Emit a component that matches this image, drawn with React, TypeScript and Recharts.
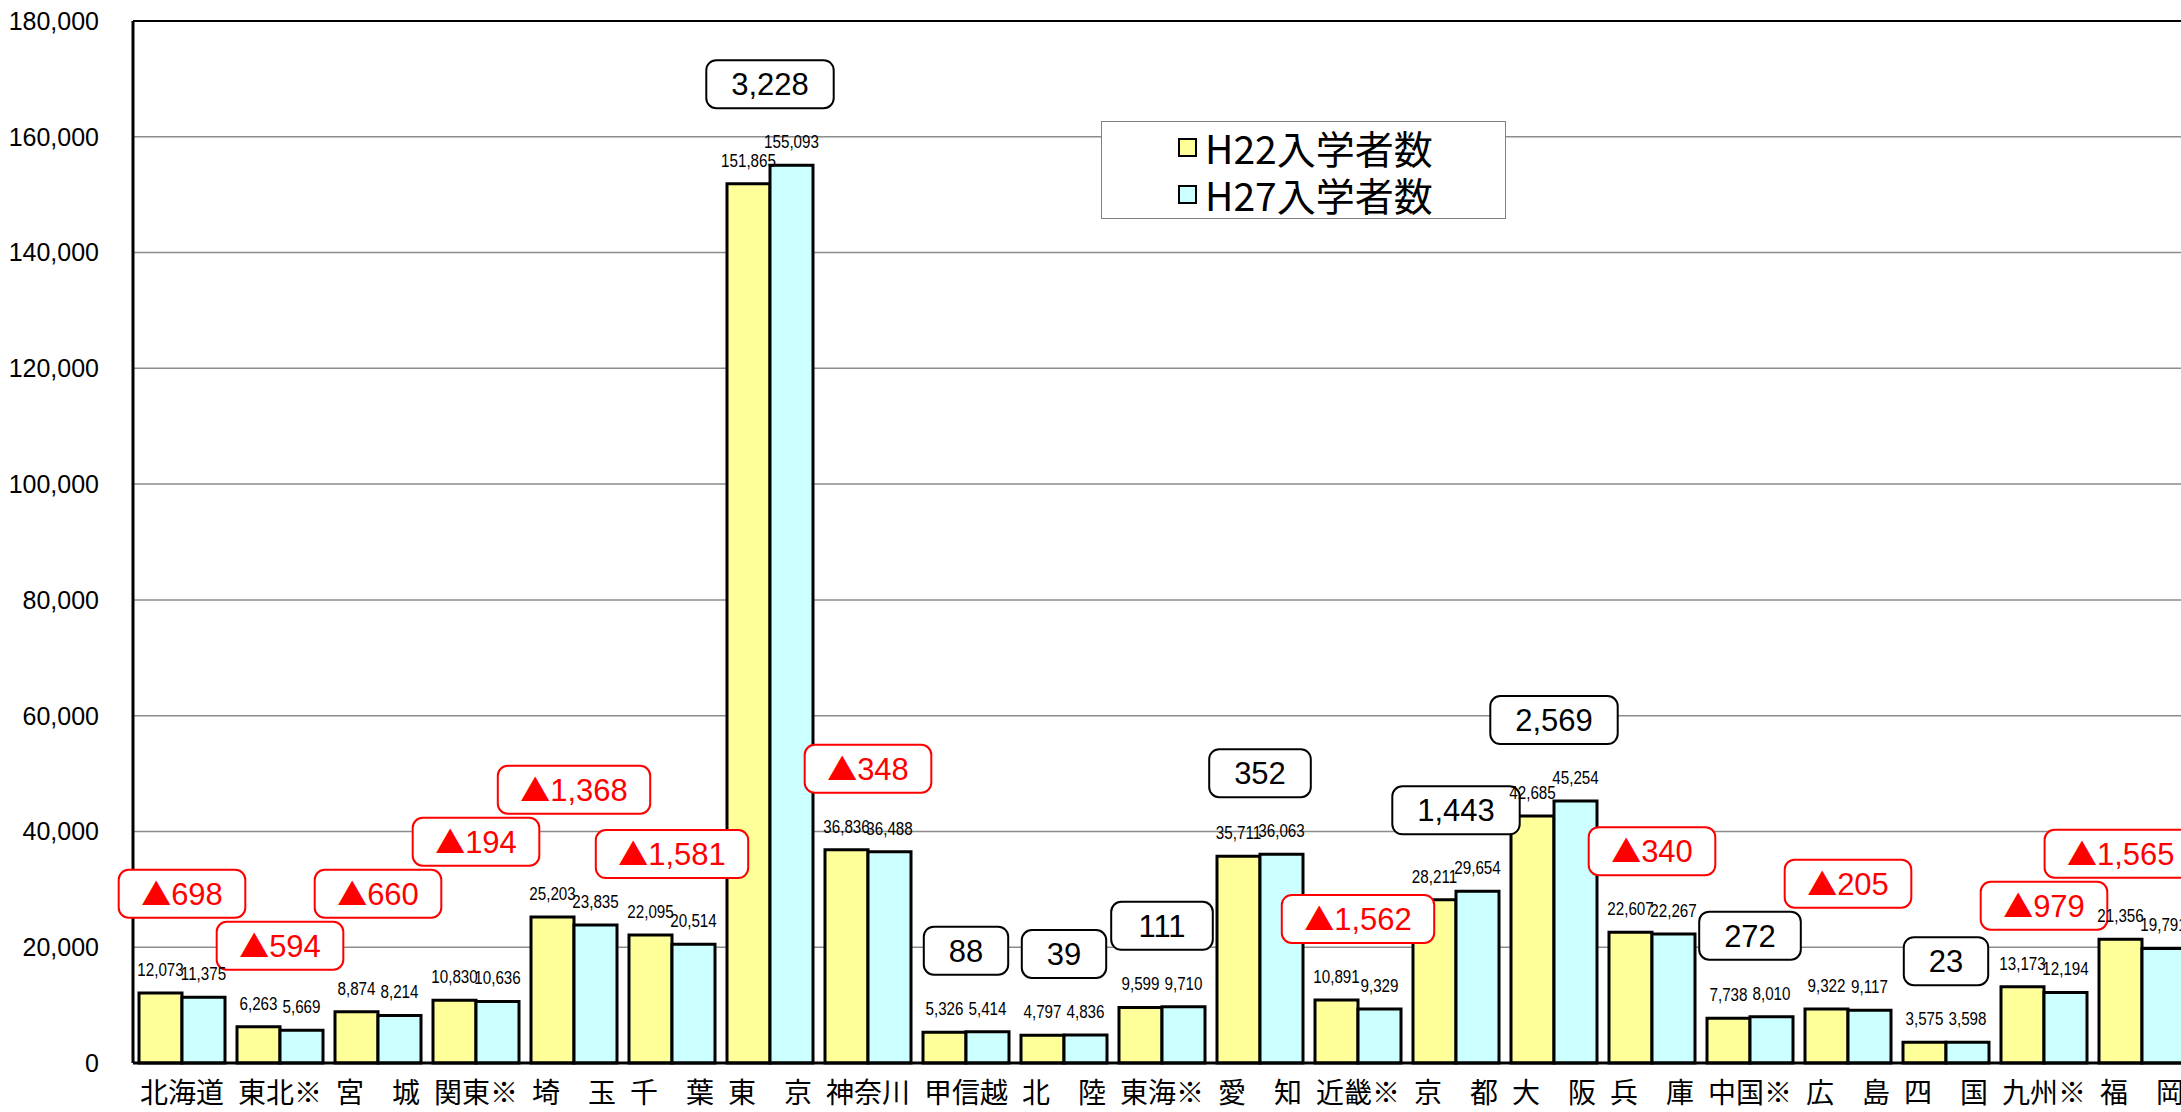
import React from "react";
import {
  ComposedChart,
  Bar,
  Line,
  XAxis,
  YAxis,
  CartesianGrid,
  Legend,
  LabelList,
  ReferenceLine,
} from "recharts";

const regions = [
  "北海道", "東北※", "宮　城", "関東※", "埼　玉", "千　葉", "東　京",
  "神奈川", "甲信越", "北　陸", "東海※", "愛　知", "近畿※", "京　都",
  "大　阪", "兵　庫", "中国※", "広　島", "四　国", "九州※", "福　岡",
];
const h22 = [
  12073, 6263, 8874, 10830, 25203, 22095, 151865, 36836, 5326, 4797, 9599,
  35711, 10891, 28211, 42685, 22607, 7738, 9322, 3575, 13173, 21356,
];
const h27 = [
  11375, 5669, 8214, 10636, 23835, 20514, 155093, 36488, 5414, 4836, 9710,
  36063, 9329, 29654, 45254, 22267, 8010, 9117, 3598, 12194, 19791,
];
const yTicks = [0, 20000, 40000, 60000, 80000, 100000, 120000, 140000, 160000, 180000];
const seriesNames = ["H22入学者数", "H27入学者数"];

const data = regions.map((name, i) => ({
  name,
  h22: h22[i],
  h27: h27[i],
  peak: Math.max(h22[i], h27[i]),
}));

const VIEW_W = 2181;
const fmt = (v: number) => Number(v).toLocaleString("en-US");
const LATIN = "'Liberation Sans', Arial, sans-serif";
const CJK = "'Noto Sans CJK JP', 'Noto Sans', sans-serif";

// value above a bar, squeezed like a narrow font
const BarValue = (p: any) => {
  const vb = p.viewBox || p;
  if (vb.x == null) return null;
  const cx = vb.x + vb.width / 2;
  const ty = vb.y - 17;
  return (
    <text
      transform={`translate(${cx},${ty}) scale(0.8,1)`}
      textAnchor="middle"
      fontSize={19}
      fontFamily={LATIN}
      fill="#000"
    >
      {fmt(p.value)}
    </text>
  );
};

// difference boxes: positions come from the Line points, then get nudged so they don't collide
const BOX_H = 48;
const BOX_RISE = 81;
const boxPts: { cx: number; cy: number }[] = [];

const boxInfo = (i: number) => {
  const d = h27[i] - h22[i];
  const neg = d < 0;
  const num = fmt(Math.abs(d));
  let tw = neg ? 31 : 0;
  for (const ch of num) tw += ch === "," ? 8.6 : 17.2;
  return { neg, num, tw, w: tw + (neg ? 44 : 50) };
};

const layoutBoxes = () => {
  const ys = boxPts.map((p) => (p ? p.cy - BOX_RISE : 0));
  for (let i = 1; i < boxPts.length; i++) {
    const a = boxPts[i - 1];
    const b = boxPts[i];
    if (!a || !b) continue;
    const half = (boxInfo(i - 1).w + boxInfo(i).w) / 2;
    if (Math.abs(b.cx - a.cx) >= half) continue;
    if (Math.abs(ys[i] - ys[i - 1]) >= BOX_H + 4) continue;
    const pi = Math.max(h22[i], h27[i]);
    const pp = Math.max(h22[i - 1], h27[i - 1]);
    if (pi > pp) ys[i] = ys[i - 1] - BOX_H - 4;
    else ys[i - 1] = ys[i] - BOX_H - 4;
  }
  return ys;
};

const DiffBox = ({ index }: { index: number }) => {
  const pt = boxPts[index];
  if (!pt) return null;
  const y = layoutBoxes()[index];
  const { neg, num, tw, w } = boxInfo(index);
  const cx = Math.min(pt.cx, VIEW_W - tw / 2 - 6);
  const color = neg ? "#FF0000" : "#000000";
  return (
    <g>
      <rect x={cx - w / 2} y={y - BOX_H / 2} width={w} height={BOX_H} rx={10} ry={10}
        fill="#fff" stroke={color} strokeWidth={2} />
      <text x={cx} y={y + 11} textAnchor="middle" fontSize={31}
        fontFamily={LATIN} fill={color}>
        {neg && <tspan fontFamily={CJK} fontSize={30}>▲</tspan>}
        <tspan>{num}</tspan>
      </text>
    </g>
  );
};

const renderLegend = (props: any) => (
  <div
    style={{
      width: 405,
      height: 98,
      boxSizing: "border-box",
      border: "1px solid #808080",
      background: "#fff",
      paddingLeft: 76,
      paddingTop: 2,
    }}
  >
    {(props.payload || [])
      .filter((e: any) => e.dataKey !== "peak" && e.type !== "none")
      .map((e: any) => (
        <div key={e.value} style={{ display: "flex", alignItems: "center", height: 47 }}>
          <span
            style={{
              display: "inline-block",
              width: 15,
              height: 15,
              border: "2px solid #000",
              background: e.color,
              marginRight: 8,
            }}
          />
          <span style={{ fontSize: 39, fontFamily: CJK, color: "#000", lineHeight: 1 }}>
            {e.value}
          </span>
        </div>
      ))}
  </div>
);

export default function App() {
  return (
    <div
      style={{
        position: "fixed",
        left: 0,
        top: 0,
        width: VIEW_W,
        height: 1112,
        overflow: "hidden",
        background: "#fff",
      }}
    >
      <ComposedChart
        width={2191}
        height={1112}
        data={data}
        margin={{ top: 21, right: 0, left: 0, bottom: 0 }}
        barCategoryGap={6}
        barGap={0}
      >
        <CartesianGrid vertical={false} stroke="#8c8c8c" strokeWidth={1.5} />
        <XAxis
          dataKey="name"
          height={49}
          interval={0}
          tickLine={false}
          tickSize={0}
          tickMargin={20}
          axisLine={{ stroke: "#000", strokeWidth: 3 }}
          tick={{ fontSize: 28, fontFamily: CJK, fill: "#000" }}
        />
        <YAxis
          width={133}
          domain={[0, 180000]}
          ticks={yTicks}
          interval={0}
          tickLine={false}
          tickSize={0}
          tickMargin={34}
          tickFormatter={fmt}
          axisLine={{ stroke: "#000", strokeWidth: 3 }}
          tick={{ fontSize: 25, fontFamily: LATIN, fill: "#000" }}
        />
        <ReferenceLine y={180000} stroke="#000" strokeWidth={2} />
        <Legend
          verticalAlign="middle"
          align="center"
          content={renderLegend}
          wrapperStyle={{ left: 1101, top: 121, width: 405, height: 98 }}
        />
        <Bar dataKey="h22" name={seriesNames[0]} fill="#FFFF99" stroke="#000"
          strokeWidth={3} isAnimationActive={false}>
          <LabelList dataKey="h22" position="top" content={BarValue} />
        </Bar>
        <Bar dataKey="h27" name={seriesNames[1]} fill="#CCFFFF" stroke="#000"
          strokeWidth={3} isAnimationActive={false}>
          <LabelList dataKey="h27" position="top" content={BarValue} />
        </Bar>
        <Line
          dataKey="peak"
          stroke="none"
          legendType="none"
          isAnimationActive={false}
          activeDot={false}
          dot={(p: any) => {
            boxPts[p.index] = { cx: p.cx, cy: p.cy };
            return <DiffBox key={p.index} index={p.index} />;
          }}
        />
      </ComposedChart>
    </div>
  );
}
